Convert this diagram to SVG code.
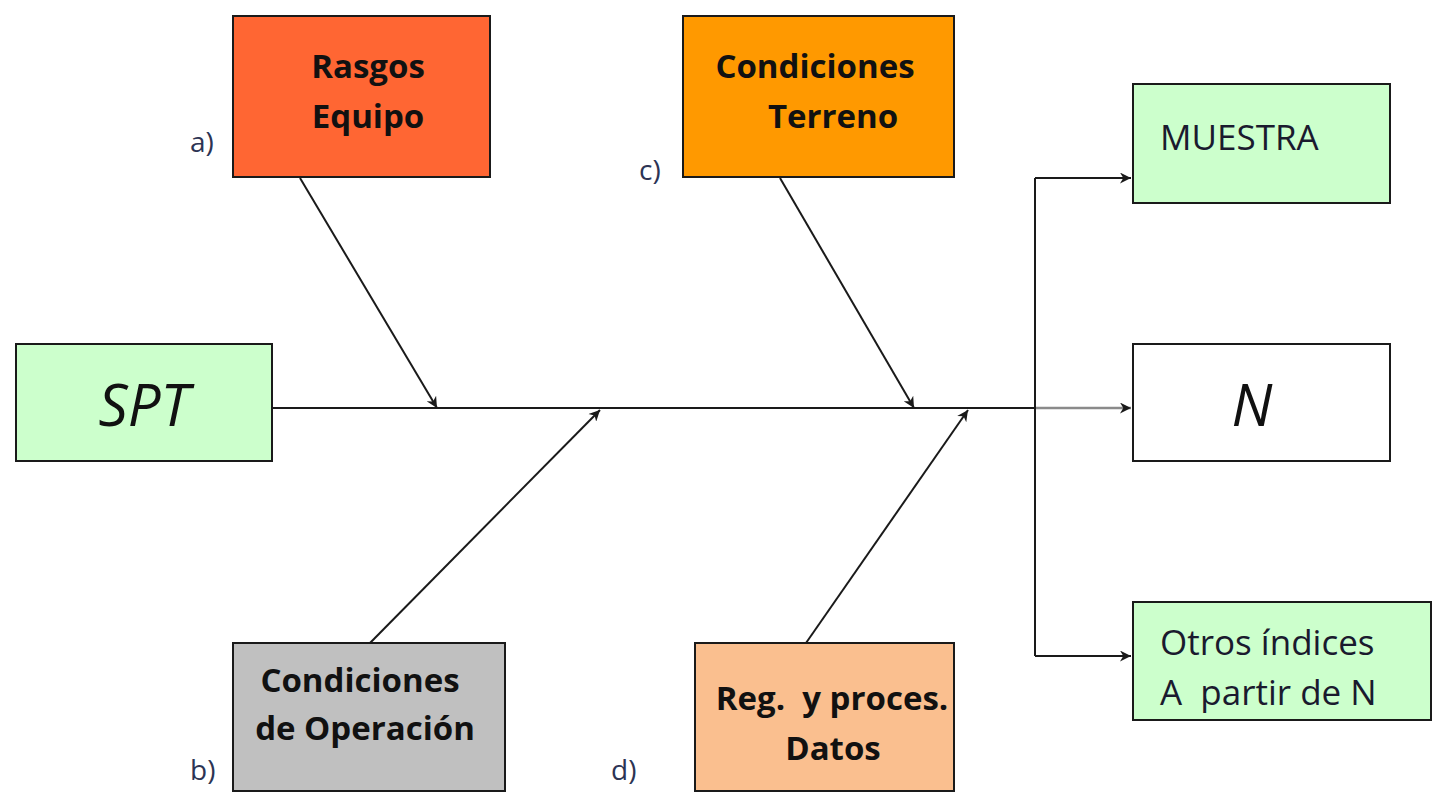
<svg xmlns="http://www.w3.org/2000/svg" width="1435" height="801" viewBox="0 0 1435 801">
  <style>
    .box { stroke: #1a1a1a; stroke-width: 2; }
    .t { font-family: "Open Sans", "Liberation Sans", sans-serif; fill: #111; }
    .b { font-weight: bold; font-size: 33px; }
    .r { font-size: 35px; fill: #1a1a2e; }
    .big { font-style: italic; font-size: 58px; fill: #111; }
    .lbl { font-family: "Open Sans", "Liberation Sans", sans-serif; font-size: 28px; fill: #2c3454; }
    .ln { stroke: #1a1a1a; stroke-width: 2; fill: none; }
  </style>
  <defs>
    <marker id="ah" viewBox="0 0 10 10" refX="10" refY="5" markerWidth="13" markerHeight="11" orient="auto" markerUnits="userSpaceOnUse">
      <path d="M0,0 L10,5 L0,10 L3,5 Z" fill="#1a1a1a"/>
    </marker>
  </defs>
  <rect width="1435" height="801" fill="#ffffff"/>

  <g id="connectors">
    <line class="ln" x1="272" y1="408" x2="1035" y2="408"/>
    <line x1="1035" y1="408" x2="1131" y2="408" stroke="#8a8a8a" stroke-width="2.5" marker-end="url(#ah)"/>
    <polyline class="ln" points="1035,178 1035,656"/>
    <line class="ln" x1="1035" y1="178" x2="1131" y2="178" marker-end="url(#ah)"/>
    <line class="ln" x1="1035" y1="656" x2="1131" y2="656" marker-end="url(#ah)"/>
    <line class="ln" x1="300" y1="178" x2="437" y2="408" marker-end="url(#ah)"/>
    <line class="ln" x1="370" y1="643" x2="600" y2="410" marker-end="url(#ah)"/>
    <line class="ln" x1="780" y1="178" x2="914" y2="408" marker-end="url(#ah)"/>
    <line class="ln" x1="806" y1="643" x2="968" y2="410" marker-end="url(#ah)"/>
  </g>

  <g id="spt">
    <rect class="box" x="16" y="344" width="256" height="117" fill="#ccffcc"/>
    <text class="t big" x="144" y="426" text-anchor="middle">SPT</text>
  </g>

  <g id="rasgos-equipo">
    <rect class="box" x="233" y="16" width="257" height="161" fill="#ff6633"/>
    <text class="t b" x="368" y="78" text-anchor="middle">Rasgos</text>
    <text class="t b" x="368" y="128" text-anchor="middle">Equipo</text>
    <text class="lbl" x="190" y="152">a)</text>
  </g>

  <g id="condiciones-terreno">
    <rect class="box" x="683" y="16" width="271" height="161" fill="#ff9900"/>
    <text class="t b" x="815" y="78" text-anchor="middle">Condiciones</text>
    <text class="t b" x="833" y="128" text-anchor="middle">Terreno</text>
    <text class="lbl" x="639" y="180">c)</text>
  </g>

  <g id="condiciones-operacion">
    <rect class="box" x="233" y="643" width="272" height="148" fill="#c0c0c0"/>
    <text class="t b" x="360" y="692" text-anchor="middle">Condiciones</text>
    <text class="t b" x="365" y="740" text-anchor="middle">de Operación</text>
    <text class="lbl" x="190" y="780">b)</text>
  </g>

  <g id="registro-datos">
    <rect class="box" x="695" y="643" width="259" height="148" fill="#fabf8f"/>
    <text class="t b" x="832" y="710" text-anchor="middle" xml:space="preserve">Reg.  y proces.</text>
    <text class="t b" x="833" y="760" text-anchor="middle">Datos</text>
    <text class="lbl" x="611" y="780">d)</text>
  </g>

  <g id="muestra">
    <rect class="box" x="1133" y="84" width="257" height="119" fill="#ccffcc"/>
    <text class="t r" x="1160" y="150">MUESTRA</text>
  </g>

  <g id="n">
    <rect class="box" x="1133" y="344" width="257" height="117" fill="#ffffff"/>
    <text class="t big" x="1252" y="426" text-anchor="middle">N</text>
  </g>

  <g id="otros-indices">
    <rect class="box" x="1133" y="602" width="298" height="118" fill="#ccffcc"/>
    <text class="t r" x="1160" y="655">Otros índices</text>
    <text class="t r" x="1160" y="705" xml:space="preserve">A  partir de N</text>
  </g>
</svg>
